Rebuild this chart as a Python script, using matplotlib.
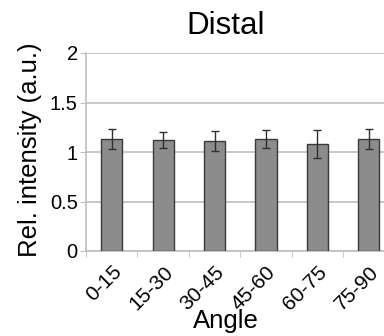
import matplotlib
matplotlib.use("Agg")
from matplotlib import pyplot as plt

plt.rcParams['font.family'] = ['Liberation Sans', 'DejaVu Sans']

angles = ["0-15", "15-30", "30-45", "45-60", "60-75", "75-90"]
intensity = [1.13, 1.12, 1.11, 1.13, 1.08, 1.13]
err = [0.10, 0.08, 0.10, 0.09, 0.145, 0.10]

fig = plt.figure(figsize=(3.84, 3.36), dpi=100)
# axes runs past the right edge like the original crop
ax = fig.add_axes([86/384, 1-251/336, 308.6/384, 198/336])

x = list(range(len(angles)))
ax.bar(x, intensity, width=0.41, color="#8c8c8c", edgecolor="#3a3a3a",
       linewidth=1.0, zorder=3)
ax.errorbar(x, intensity, yerr=err, fmt="none", ecolor="#303030",
            elinewidth=1.0, capsize=2.7, capthick=1.0, zorder=4)

ax.set_xlim(-0.5, 5.5)
ax.set_ylim(0, 2)
ax.set_yticks([0, 0.5, 1, 1.5, 2])
ax.set_yticklabels(["0", "0.5", "1", "1.5", "2"], fontsize=14.5)
ax.yaxis.grid(True, color="#bfbfbf", linewidth=1.2, zorder=0)

ax.set_xticks(x)
ax.set_xticklabels(angles, rotation=45, fontsize=15, ha="right",
                   rotation_mode="anchor")
ax.set_xticks([i + 0.5 for i in range(-1, 6)], minor=True)
ax.tick_params(axis="x", which="major", length=0, pad=8)
ax.tick_params(axis="x", which="minor", length=4, color="#bfbfbf")
ax.tick_params(axis="y", length=4, color="#bfbfbf", pad=2)

for s in ["top", "right"]:
    ax.spines[s].set_visible(False)
ax.spines["left"].set_color("#bfbfbf")
ax.spines["bottom"].set_color("#bfbfbf")
ax.spines["left"].set_linewidth(1.2)
ax.spines["bottom"].set_linewidth(1.2)

fig.text(30/384, 1-150/336, "Rel. intensity (a.u.)", fontsize=18.5,
         rotation=90, ha="center", va="center")
fig.text(226/384, 1-328/336, "Angle", fontsize=18.5, ha="center",
         va="baseline")
fig.text(226/384, 1-34/336, "Distal", fontsize=22.5, ha="center",
         va="baseline")

plt.savefig("out.png", dpi=100)
